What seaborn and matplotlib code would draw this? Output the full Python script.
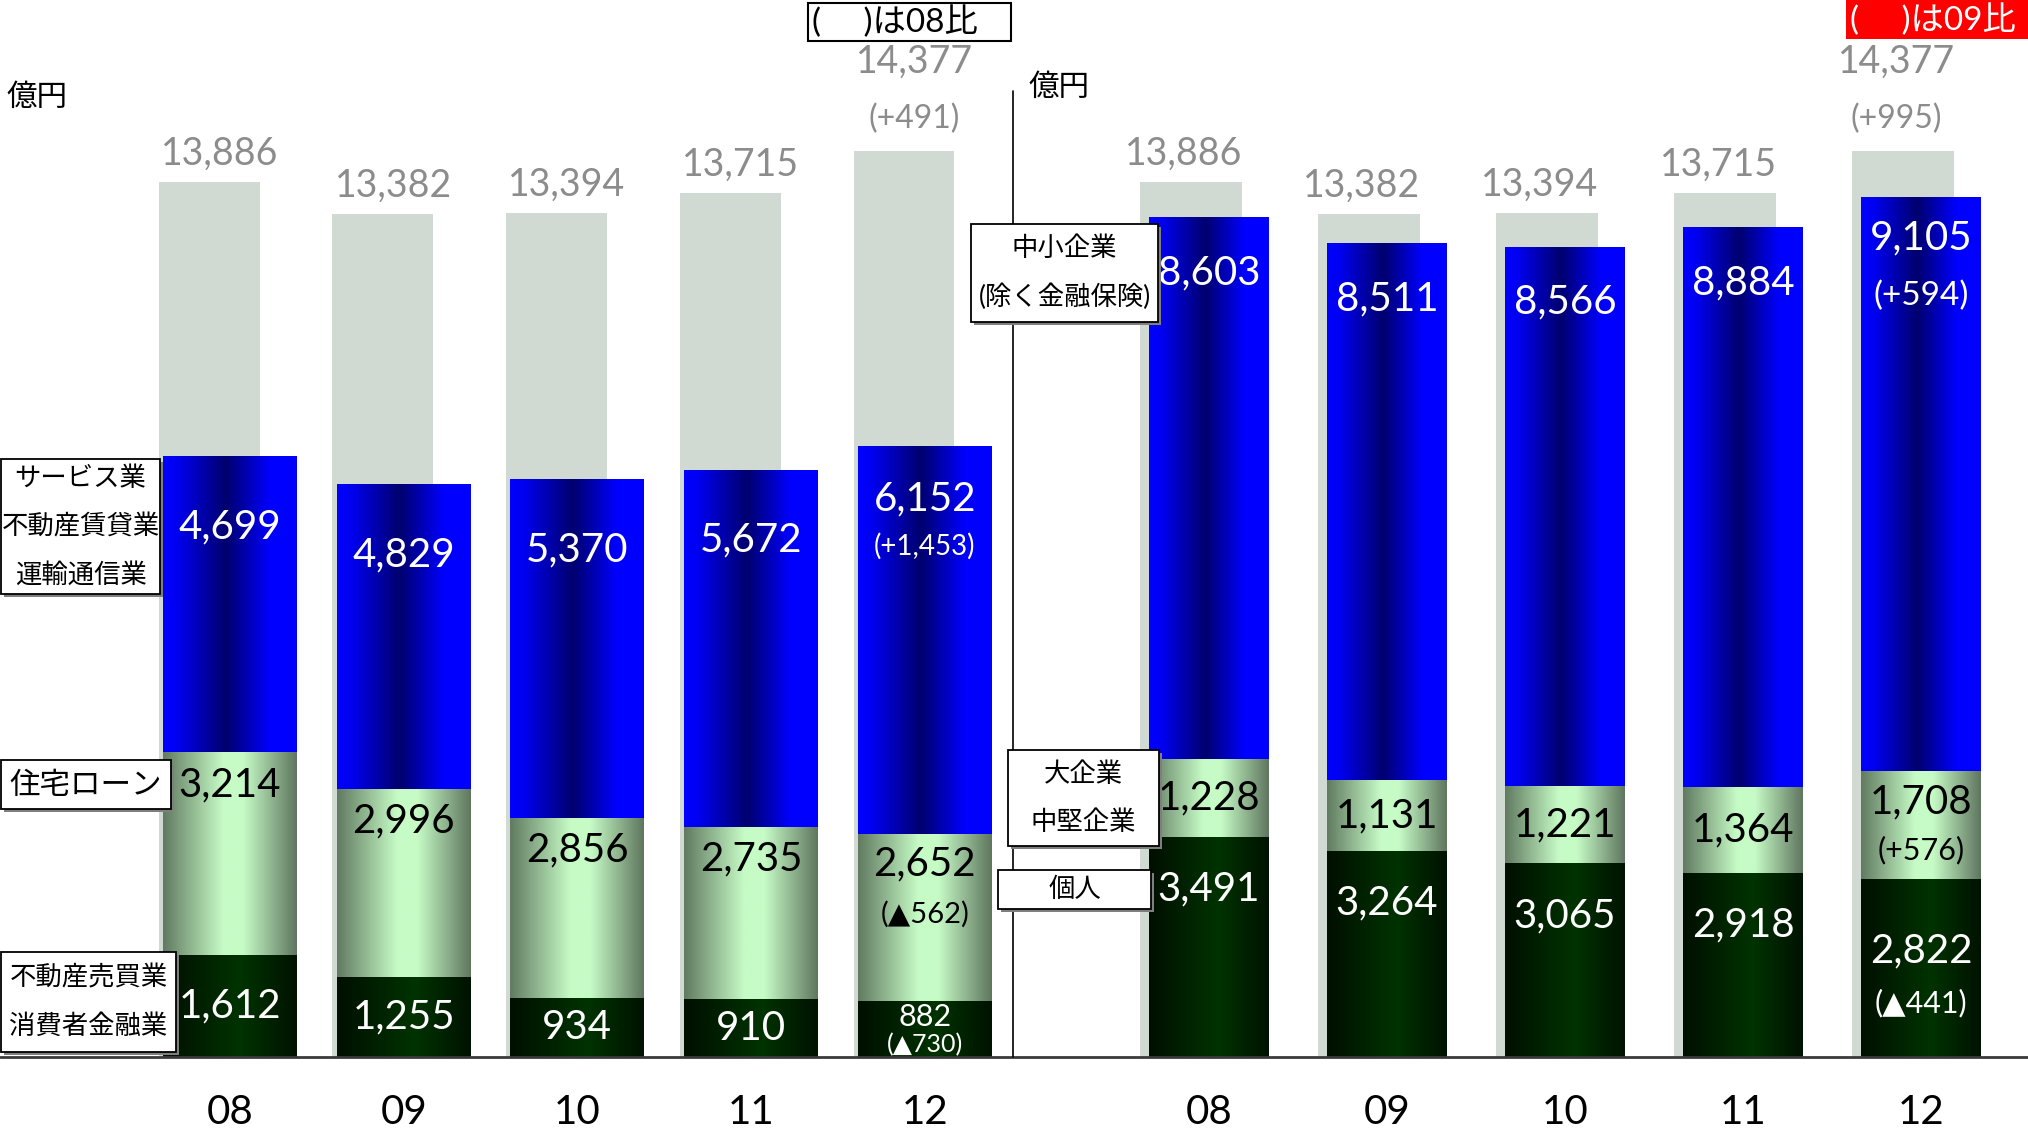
import numpy as np
import pandas as pd
import matplotlib
matplotlib.use("Agg")
import matplotlib.pyplot as plt
import seaborn as sns
from matplotlib.colors import LinearSegmentedColormap
from matplotlib.patches import Rectangle
from matplotlib.lines import Line2D

# ---------------------------------------------------------------- data
years = ["08", "09", "10", "11", "12"]
totals = [13886, 13382, 13394, 13715, 14377]

# 業種別（左）
ind_bottom = [1612, 1255, 934, 910, 882]      # 不動産売買業・消費者金融業
ind_middle = [3214, 2996, 2856, 2735, 2652]   # 住宅ローン
ind_top = [4699, 4829, 5370, 5672, 6152]      # サービス業・不動産賃貸業・運輸通信業
ind_diff = ["(▲730)", "(▲562)", "(+1,453)"]   # 12年 08比（下・中・上）
ind_total_diff = "(+491)"

# 規模別（右）
size_bottom = [3491, 3264, 3065, 2918, 2822]  # 個人
size_middle = [1228, 1131, 1221, 1364, 1708]  # 大企業・中堅企業
size_top = [8603, 8511, 8566, 8884, 9105]     # 中小企業（除く金融保険）
size_diff = ["(▲441)", "(+576)", "(+594)"]    # 12年 09比（下・中・上）
size_total_diff = "(+995)"

# ---------------------------------------------------------------- style
sns.set_theme(style="white")
plt.rcParams["font.family"] = ["Lato", "DejaVu Sans", "Noto Sans CJK JP"]
NUM_W = "normal"

W, H, DPI = 2028, 1139, 100
BASE = 1057                 # baseline, pixels from top
PX_PER_UNIT = 0.063
YMAX = BASE / PX_PER_UNIT

GRAY = "#d0dad2"
TOTAL_TXT = "#8c8c8c"
BLUE = [(0.0, "#0000ff"), (0.1, "#0000f2"), (0.47, "#00006e"), (0.8, "#0000ff"), (1.0, "#0000ff")]
LGREEN = [(0.0, "#617a61"), (0.45, "#c6fbc6"), (0.6, "#c6fbc6"), (1.0, "#5f765f")]
DGREEN = [(0.0, "#000f00"), (0.58, "#003300"), (1.0, "#001200")]

fig = plt.figure(figsize=(W / DPI, H / DPI), dpi=DPI)
fig.patch.set_facecolor("white")
axL = fig.add_axes([0, (H - BASE) / H, 1013 / W, BASE / H])
axR = fig.add_axes([1013 / W, (H - BASE) / H, (W - 1013) / W, BASE / H])
for ax in (axL, axR):
    ax.set_facecolor("none")


def gradient_fill(ax, patch, stops, z):
    x0, y0 = patch.get_x(), patch.get_y()
    w, h = patch.get_width(), patch.get_height()
    cmap = LinearSegmentedColormap.from_list("grad", stops)
    ax.imshow(np.linspace(0, 1, 256)[None, :], cmap=cmap, aspect="auto",
              extent=(x0, x0 + w, y0, y0 + h), interpolation="bilinear", zorder=z)
    patch.set_visible(False)


def draw_panel(ax, bottom, middle, top, width, gray_width, gray_shift, xlim):
    df = pd.DataFrame({"year": years, "total": totals,
                       "b": bottom, "m": middle, "t": top})
    df["c2"] = df["b"] + df["m"]
    df["c3"] = df["c2"] + df["t"]
    sns.barplot(data=df, x="year", y="total", color=GRAY, saturation=1,
                width=gray_width, errorbar=None, ax=ax, zorder=1)
    for p in ax.containers[-1]:
        p.set_x(p.get_x() + gray_shift)
        p.set_edgecolor("none")
    for col, stops, z in (("c3", BLUE, 2), ("c2", LGREEN, 3), ("b", DGREEN, 4)):
        sns.barplot(data=df, x="year", y=col, color="white", saturation=1,
                    width=width, errorbar=None, ax=ax)
        for p in ax.containers[-1]:
            gradient_fill(ax, p, stops, z)
    ax.set_xlim(*xlim)
    ax.set_ylim(0, YMAX)
    ax.set_xlabel("")
    ax.set_ylabel("")
    ax.set_yticks([])
    for s in ax.spines.values():
        s.set_visible(False)
    ax.tick_params(axis="x", length=0, pad=27, labelsize=29, colors="black")
    return df


def put(ax, x, y, text, dy_px, size, color, va="center"):
    ax.annotate(text, (x, y), xytext=(0, dy_px * 72 / DPI), textcoords="offset points",
                ha="center", va=va, fontsize=size, color=color, zorder=8,
                fontweight=NUM_W, annotation_clip=False)


dfL = draw_panel(axL, ind_bottom, ind_middle, ind_top, 0.77, 0.58, -0.12, (-1.324, 4.508))
dfR = draw_panel(axR, size_bottom, size_middle, size_top, 0.67, 0.57, -0.10, (-1.101, 4.601))

# ---------------------------------------------------------------- totals
for ax, shift, diff in ((axL, -0.06, ind_total_diff), (axR, -0.14, size_total_diff)):
    for i, v in enumerate(totals):
        if i == len(totals) - 1:
            put(ax, i + shift, v, diff, 32, 23, TOTAL_TXT)
            put(ax, i + shift, v, f"{v:,}", 90, 27, TOTAL_TXT)
        else:
            put(ax, i + shift, v, f"{v:,}", 28, 27, TOTAL_TXT)

# ---------------------------------------------------------------- left values
last = len(years) - 1
for i in range(len(years)):
    top, c2, b = dfL["c3"][i], dfL["c2"][i], dfL["b"][i]
    if i == last:
        put(axL, i, top, f"{ind_top[i]:,}", -52, 29, "white")
        put(axL, i, top, ind_diff[2], -100, 20, "white")
        put(axL, i, c2, f"{ind_middle[i]:,}", -30, 29, "black")
        put(axL, i, c2, ind_diff[1], -80, 21, "black")
        put(axL, i, b, f"{ind_bottom[i]:,}", -16, 22, "white")
        put(axL, i, b, ind_diff[0], -43, 18, "white")
    else:
        put(axL, i, top, f"{ind_top[i]:,}", -70, 29, "white")
        put(axL, i, c2, f"{ind_middle[i]:,}", -32, 29, "black")
        put(axL, i, b / 2, f"{ind_bottom[i]:,}", 0, 29, "white")

# ---------------------------------------------------------------- right values
for i in range(len(years)):
    top, c2, b = dfR["c3"][i], dfR["c2"][i], dfR["b"][i]
    if i == last:
        put(axR, i, top, f"{size_top[i]:,}", -40, 29, "white")
        put(axR, i, top, size_diff[2], -98, 24, "white")
        put(axR, i, c2, f"{size_middle[i]:,}", -30, 29, "black")
        put(axR, i, c2, size_diff[1], -78, 22, "black")
        put(axR, i, b, f"{size_bottom[i]:,}", -72, 29, "white")
        put(axR, i, b, size_diff[0], -124, 22, "white")
    else:
        put(axR, i, top, f"{size_top[i]:,}", -55, 29, "white")
        put(axR, i, (b + c2) / 2, f"{size_middle[i]:,}", 0, 29, "black")
        put(axR, i, b, f"{size_bottom[i]:,}", -52, 29, "white")


# ---------------------------------------------------------------- category boxes
def side_box(ax, yval, dy_px, x0, x1, h, lines, size, linesp=48):
    yc = ax.transData.transform((0, yval))[1] + dy_px
    fig.add_artist(Rectangle(((x0 + 3) / W, (yc - h / 2 - 3) / H), (x1 - x0) / W, h / H,
                             transform=fig.transFigure, fc="#7f7f7f", ec="none", zorder=20))
    fig.add_artist(Rectangle((x0 / W, (yc - h / 2) / H), (x1 - x0) / W, h / H,
                             transform=fig.transFigure, fc="white", ec="black", lw=1.3, zorder=21))
    n = len(lines)
    for k, s in enumerate(lines):
        ty = yc + (n - 1) / 2 * linesp - k * linesp
        fig.text((x0 + x1) / 2 / W, ty / H, s, ha="center", va="center",
                 fontsize=size, color="black", zorder=22)


side_box(axL, dfL["c3"][0], -70, 1, 160, 135, ["サービス業", "不動産賃貸業", "運輸通信業"], 19)
side_box(axL, dfL["c2"][0], -32, 1, 171, 49, ["住宅ローン"], 22)
side_box(axL, dfL["b"][0] / 2, 4, 1, 176, 100, ["不動産売買業", "消費者金融業"], 19)
side_box(axR, dfR["c3"][0], -55, 971, 1158, 98, ["中小企業", "(除く金融保険)"], 19)
side_box(axR, (dfR["b"][0] + dfR["c2"][0]) / 2, 0, 1008, 1159, 96, ["大企業", "中堅企業"], 19)
side_box(axR, dfR["b"][0], -52, 998, 1151, 39, ["個人"], 19)

# ---------------------------------------------------------------- frame lines & headers
fig.add_artist(Line2D([0, 1], [(H - BASE) / H] * 2, transform=fig.transFigure,
                      color="#3a3a3a", lw=2, zorder=15))
fig.add_artist(Line2D([1013 / W] * 2, [(H - BASE) / H, (H - 91) / H], transform=fig.transFigure,
                      color="black", lw=1.2, zorder=15))

fig.text(6 / W, (H - 97) / H, "億円", ha="left", va="center", fontsize=22, color="black")
fig.text(1028 / W, (H - 87) / H, "億円", ha="left", va="center", fontsize=22, color="black")

fig.add_artist(Rectangle((808 / W, (H - 41) / H), 203 / W, 38 / H, transform=fig.transFigure,
                         fc="white", ec="black", lw=1.5, zorder=20))
fig.text(812 / W, (H - 22) / H, "(     )は08比", ha="left", va="center", fontsize=24,
         color="black", zorder=21)
fig.add_artist(Rectangle((1846 / W, (H - 39) / H), 182 / W, 39 / H, transform=fig.transFigure,
                         fc="#ff0000", ec="none", zorder=20))
fig.text(1850 / W, (H - 20) / H, "(     )は09比", ha="left", va="center", fontsize=24,
         color="white", zorder=21)

fig.savefig("out.png", dpi=DPI, facecolor="white")
